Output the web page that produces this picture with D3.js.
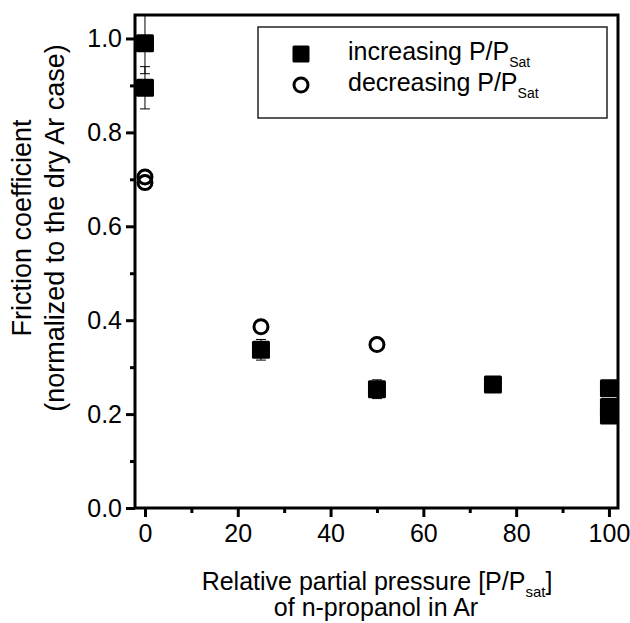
<!DOCTYPE html>
<head>
  <meta charset="utf-8">
  <title>Friction coefficient</title>
  <script src="https://d3js.org/d3.v7.min.js"></script>
  <style>
    body { margin: 0; background: #fff; }
    text { font-family: "Liberation Sans", Arial, sans-serif; fill: #000; }
  </style>
</head>
<body>
  <div id="chart"></div>
  <script type="text/javascript">

    // increasing P/Psat (filled squares, with error bars)
    var incX = [0, 0, 25, 50, 75, 100, 100, 100];
    var incY = [0.99, 0.895, 0.337, 0.253, 0.263, 0.255, 0.215, 0.197];
    var incErr = [0.065, 0.045, 0.022, 0.02, 0, 0, 0, 0];

    // decreasing P/Psat (open circles)
    var decX = [0, 0, 25, 50];
    var decY = [0.705, 0.693, 0.386, 0.348];

    var xTicks = [0, 20, 40, 60, 80, 100];
    var xMinor = [10, 30, 50, 70, 90];
    var yTicks = [0, 0.2, 0.4, 0.6, 0.8, 1.0];
    var yMinor = [0.1, 0.3, 0.5, 0.7, 0.9];

    var width = 630, height = 623;
    var margin = { top: 15, right: 12, bottom: 115, left: 135 };
    var w = width - margin.left - margin.right;
    var h = height - margin.top - margin.bottom;

    var x = d3.scaleLinear().domain([-2.15, 101.95]).range([0, w]);
    var y = d3.scaleLinear().domain([0, 1.05]).range([h, 0]);

    var svg = d3.select('#chart').append('svg')
      .attr('width', width)
      .attr('height', height);

    var g = svg.append('g')
      .attr('transform', 'translate(' + margin.left + ',' + margin.top + ')');

    // minor ticks first
    g.append('g')
      .attr('transform', 'translate(0,' + h + ')')
      .call(d3.axisBottom(x).tickValues(xMinor).tickSize(5).tickFormat(''))
      .call(function (a) { a.select('.domain').remove(); })
      .selectAll('line').attr('stroke-width', 3);
    g.append('g')
      .call(d3.axisLeft(y).tickValues(yMinor).tickSize(5).tickFormat(''))
      .call(function (a) { a.select('.domain').remove(); })
      .selectAll('line').attr('stroke-width', 3);

    // major ticks with labels
    var xAxis = g.append('g')
      .attr('transform', 'translate(0,' + h + ')')
      .call(d3.axisBottom(x).tickValues(xTicks).tickSize(9).tickPadding(7).tickFormat(d3.format('d')));
    xAxis.select('.domain').remove();
    xAxis.selectAll('line').attr('stroke-width', 3);
    xAxis.selectAll('text').style('font-size', '25px').attr('fill', '#000');

    var yAxis = g.append('g')
      .call(d3.axisLeft(y).tickValues(yTicks).tickSize(9).tickPadding(4).tickFormat(d3.format('.1f')));
    yAxis.select('.domain').remove();
    yAxis.selectAll('line').attr('stroke-width', 3);
    yAxis.selectAll('text').style('font-size', '25px').attr('fill', '#000');

    // data
    var inc = incX.map(function (d, i) { return { x: d, y: incY[i], e: incErr[i] }; });
    var dec = decX.map(function (d, i) { return { x: d, y: decY[i] }; });

    var eb = g.append('g').selectAll('g')
      .data(inc.filter(function (d) { return d.e > 0; }))
      .enter().append('g');
    eb.append('line')
      .attr('x1', function (d) { return x(d.x); })
      .attr('x2', function (d) { return x(d.x); })
      .attr('y1', function (d) { return Math.max(0, y(d.y + d.e)); })
      .attr('y2', function (d) { return y(d.y - d.e); })
      .attr('stroke', '#000').attr('stroke-width', 1);
    eb.append('line')
      .attr('x1', function (d) { return x(d.x) - 5; })
      .attr('x2', function (d) { return x(d.x) + 5; })
      .attr('y1', function (d) { return y(d.y - d.e); })
      .attr('y2', function (d) { return y(d.y - d.e); })
      .attr('stroke', '#000').attr('stroke-width', 1);
    eb.filter(function (d) { return y(d.y + d.e) > 0; }).append('line')
      .attr('x1', function (d) { return x(d.x) - 5; })
      .attr('x2', function (d) { return x(d.x) + 5; })
      .attr('y1', function (d) { return y(d.y + d.e); })
      .attr('y2', function (d) { return y(d.y + d.e); })
      .attr('stroke', '#000').attr('stroke-width', 1);

    var sq = 18;
    g.append('g').selectAll('rect')
      .data(inc)
      .enter().append('rect')
      .attr('x', function (d) { return x(d.x) - sq / 2; })
      .attr('y', function (d) { return y(d.y) - sq / 2; })
      .attr('width', sq)
      .attr('height', sq)
      .attr('rx', 1.5)
      .attr('fill', '#000');

    g.append('g').selectAll('circle')
      .data(dec)
      .enter().append('circle')
      .attr('cx', function (d) { return x(d.x); })
      .attr('cy', function (d) { return y(d.y); })
      .attr('r', 7)
      .attr('fill', 'none')
      .attr('stroke', '#000')
      .attr('stroke-width', 3);

    // frame
    g.append('rect')
      .attr('width', w)
      .attr('height', h)
      .attr('fill', 'none')
      .attr('stroke', '#000')
      .attr('stroke-width', 3);

    // legend
    var leg = svg.append('g');
    leg.append('rect')
      .attr('x', 258).attr('y', 27)
      .attr('width', 349).attr('height', 91)
      .attr('fill', '#fff')
      .attr('stroke', '#222')
      .attr('stroke-width', 1.5);
    leg.append('rect')
      .attr('x', 301 - 8.5).attr('y', 54 - 8.5)
      .attr('width', 17).attr('height', 17)
      .attr('rx', 1.5)
      .attr('fill', '#000');
    leg.append('circle')
      .attr('cx', 301).attr('cy', 85).attr('r', 7)
      .attr('fill', 'none').attr('stroke', '#000').attr('stroke-width', 3);

    var labels = ['increasing P/P', 'decreasing P/P'];
    labels.forEach(function (l, i) {
      var t = leg.append('text')
        .attr('x', 348)
        .attr('y', 60 + i * 31)
        .style('font-size', '25px');
      t.append('tspan').text(l);
      t.append('tspan').attr('dy', 7).style('font-size', '14px').text('Sat');
    });

    // axis titles
    var xt = svg.append('text')
      .attr('text-anchor', 'middle')
      .style('font-size', '25px');
    xt.append('tspan').attr('x', 377).attr('y', 590).text('Relative partial pressure [P/P');
    xt.append('tspan').attr('dy', 7).style('font-size', '15px').text('sat');
    xt.append('tspan').attr('dy', -7).text(']');
    svg.append('text')
      .attr('x', 376).attr('y', 616)
      .attr('text-anchor', 'middle')
      .style('font-size', '25px')
      .text('of n-propanol in Ar');

    var yt = svg.append('text')
      .attr('transform', 'translate(31,228) rotate(-90)')
      .attr('text-anchor', 'middle')
      .style('font-size', '27px');
    yt.append('tspan').attr('x', 0).attr('y', 0).text('Friction coefficient');
    yt.append('tspan').attr('x', 0).attr('y', 33).text('(normalized to the dry Ar case)');
  </script>
</body>
